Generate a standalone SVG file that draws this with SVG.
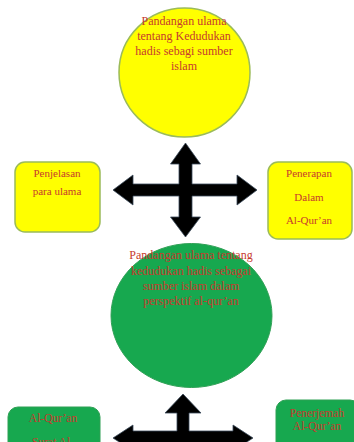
<svg xmlns="http://www.w3.org/2000/svg" width="354" height="442" viewBox="0 0 354 442">
<style>
.t{font-family:"Liberation Serif","Times New Roman",serif;fill:#c63a2e;text-anchor:middle}
.yb{fill:#ffff00;stroke:#9bbb59;stroke-width:1.5}
.gb{fill:#17a84f;stroke:#2fa055;stroke-width:1}
.ar{fill:#000;stroke:#3a4a5a;stroke-width:0.8;stroke-linejoin:miter}
</style>
<rect width="354" height="442" fill="#fff"/>
<g id="top-circle">
<ellipse cx="184.5" cy="72.5" rx="65.5" ry="64.5" class="yb"/>
<text class="t" font-size="12" x="184" y="25">Pandangan ulama</text>
<text class="t" font-size="12" x="184" y="40">tentang Kedudukan</text>
<text class="t" font-size="12" x="184" y="55">hadis sebagi sumber</text>
<text class="t" font-size="12" x="184" y="70">islam</text>
</g>
<g id="left-box">
<rect x="15" y="162" width="85" height="70" rx="10" class="yb"/>
<text class="t" font-size="11" x="57" y="177">Penjelasan</text>
<text class="t" font-size="11" x="57" y="195">para ulama</text>
</g>
<g id="right-box">
<rect x="268" y="162" width="84" height="77" rx="10" class="yb"/>
<text class="t" font-size="11" x="309" y="177">Penerapan</text>
<text class="t" font-size="11" x="309" y="201">Dalam</text>
<text class="t" font-size="11" x="309" y="224">Al-Qur’an</text>
</g>
<g id="green-circle">
<ellipse cx="191.5" cy="315.5" rx="80.5" ry="72" class="gb"/>
<text class="t" font-size="12" x="191" y="259">Pandangan ulama tentang</text>
<text class="t" font-size="12" x="191" y="275">kedudukan hadis sebagai</text>
<text class="t" font-size="12" x="191" y="290">sumber islam dalam</text>
<text class="t" font-size="12" x="191" y="305">perspektif al-qur’an</text>
</g>
<g id="bottom-left-box">
<rect x="8" y="407" width="92" height="80" rx="10" class="gb"/>
<text class="t" font-size="11.5" x="53" y="422">Al-Qur’an</text>
<text class="t" font-size="11.5" x="53" y="446">Surat Al-</text>
</g>
<g id="bottom-right-box">
<rect x="276" y="400" width="84" height="80" rx="10" class="gb"/>
<text class="t" font-size="11.5" x="317" y="417">Penerjemah</text>
<text class="t" font-size="11.5" x="317" y="430">Al-Qur’an</text>
</g>
<g id="connectors">
<polygon class="ar" points="185.5,143 200.5,164 192,164 192,184 237,184 237,175 257,190 237,205 237,196 192,196 192,217 200.5,217 185.5,237 170.5,217 179,217 179,196 133,196 133,205 113,190 133,175 133,184 179,184 179,164 170.5,164"/>
<polygon class="ar" points="183,394 201,413 189,413 189,431 233,431 233,425 253,438 233,451 233,445 189,445 189,470 177,470 177,445 133,445 133,451 113,438 133,425 133,431 177,431 177,413 165,413"/>
</g>
</svg>
